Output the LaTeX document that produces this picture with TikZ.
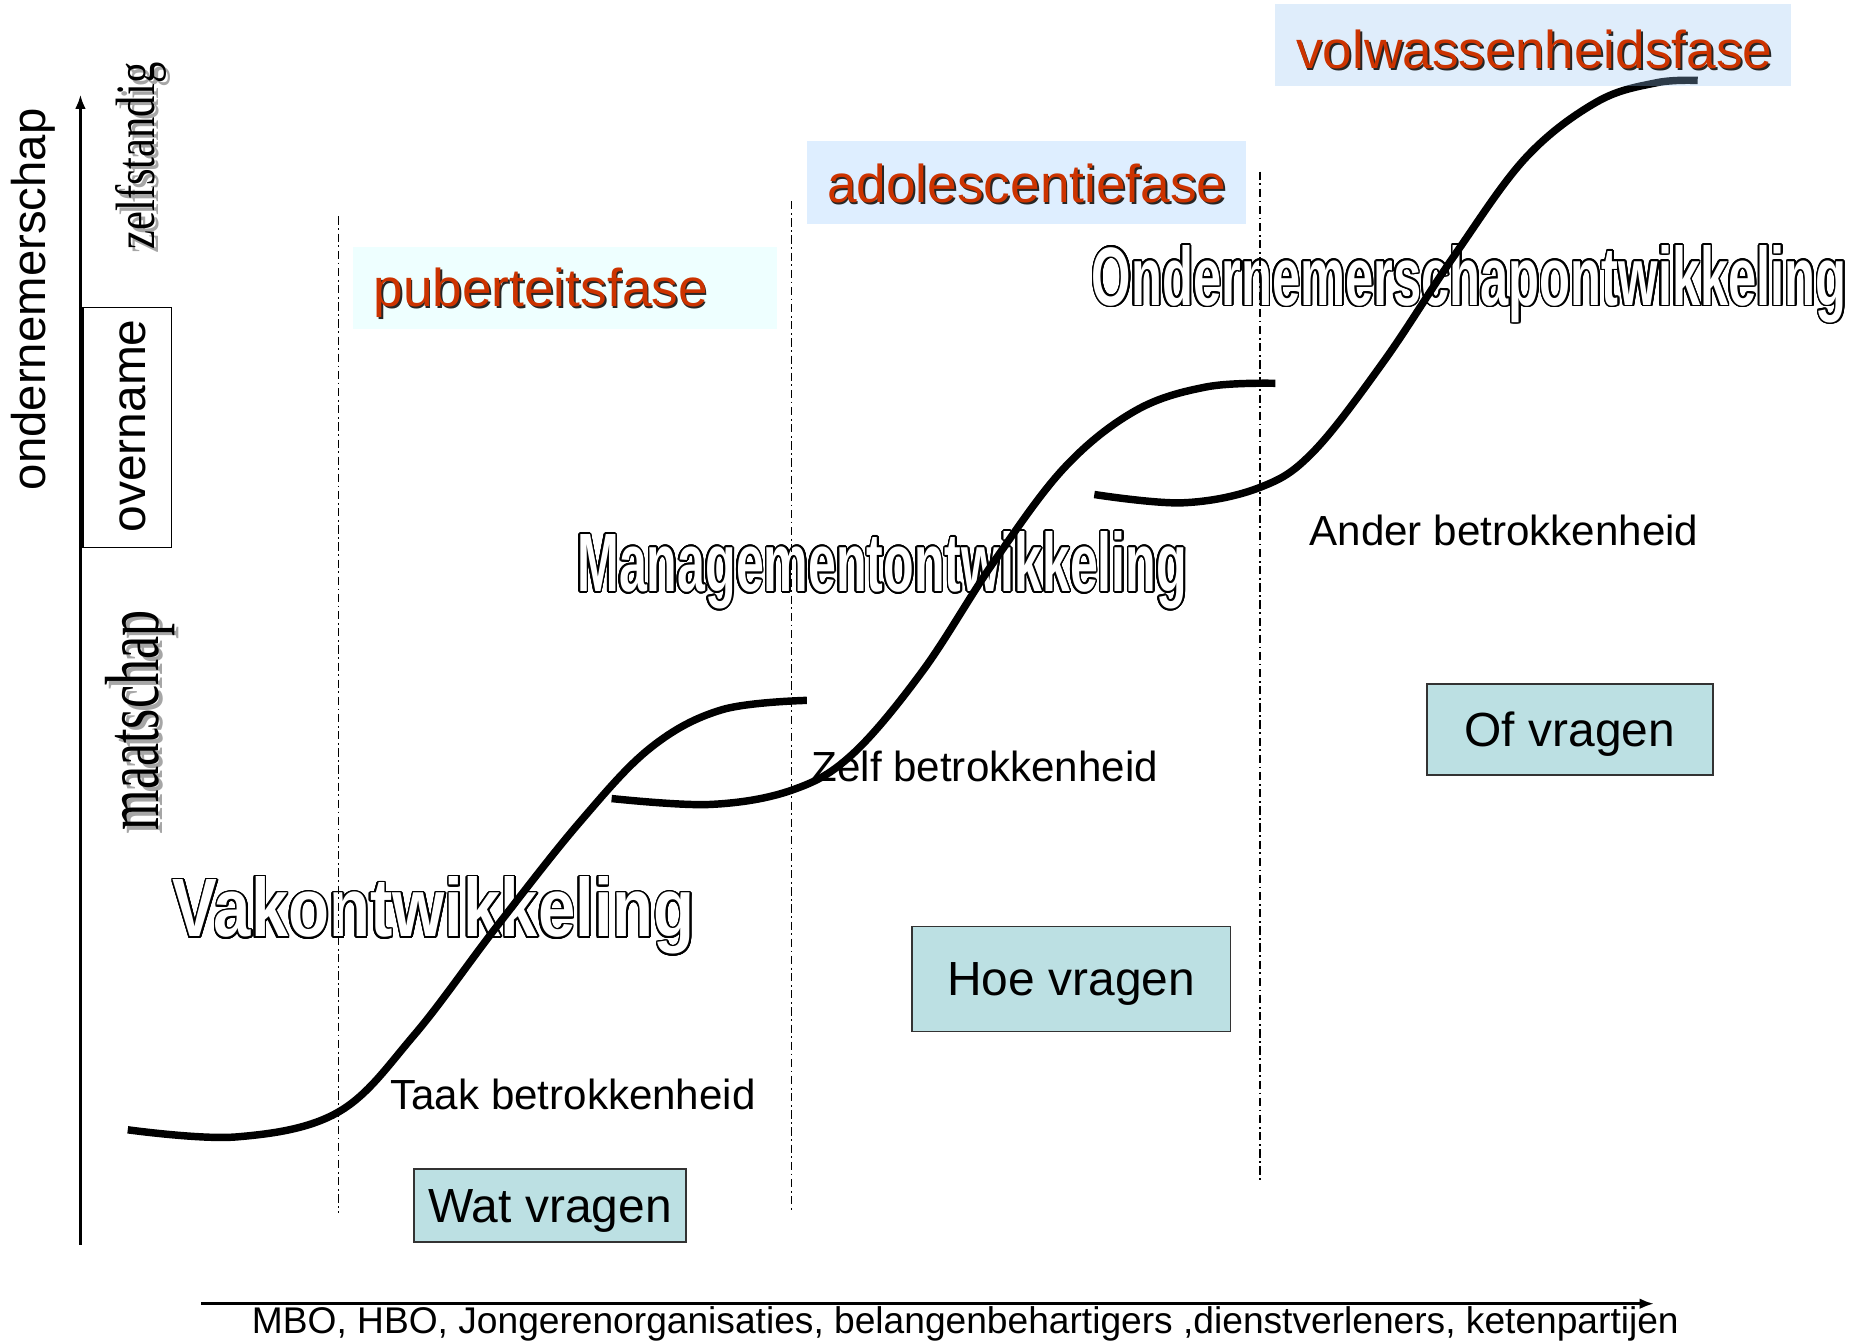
\documentclass[tikz,border=0pt]{standalone}
\usepackage{fontspec}
\setmainfont{Liberation Sans}
\newfontfamily\wafont{Liberation Serif}
\usepackage{graphicx}
\usepackage[copies]{contour}
\contourlength{1.4pt}
\contournumber{24}
\usetikzlibrary{arrows.meta}
\definecolor{fasered}{RGB}{204,51,0}
\definecolor{pubfill}{RGB}{238,255,255}
\definecolor{adofill}{RGB}{222,238,255}
\definecolor{volfill}{RGB}{150,197,242}
\definecolor{vraagfill}{RGB}{188,224,227}
\newcommand\olword[2]{{\fontsize{70}{70}\bfseries\addfontfeatures{FakeStretch=#1}\color{white}\contour{black}{#2}}}
\tikzset{
  every node/.style={inner sep=0pt, outer sep=0pt},
  curve/.style={line width=6.3pt, black},
  axisline/.style={line width=2.2pt, -{Latex[length=12pt,width=9pt]}},
  divider/.style={line width=1.1pt, dash pattern=on 7pt off 3pt on 1.5pt off 3pt},
  vraagbox/.style={draw=black!80, line width=1.3pt, fill=vraagfill, text depth=0pt, font=\fontsize{40.5}{45}\selectfont},
  fasetext/.style={anchor=base, text=fasered, font=\fontsize{45}{50}\selectfont},
  faseshadow/.style={anchor=base, text=black!85, font=\fontsize{45}{50}\selectfont},
  betrok/.style={anchor=base west, font=\fontsize{35.6}{40}\selectfont},
}
\begin{document}
\begin{tikzpicture}[x=1pt,y=-1pt]
\useasboundingbox (0,0) rectangle (1568,1134);

% phase boxes (solid)
\node[fill=pubfill, minimum width=359pt, minimum height=69pt] (pubbox) at (477.5,243.5) {};
\node[fill=adofill, minimum width=371pt, minimum height=70pt] (adobox) at (867.5,154) {};

% outlined development labels
\node[anchor=base west] (vak) at (146,792) {\olword{0.81}{Vakontwikkeling}};
\node[anchor=base west] (man) at (488,500) {\olword{0.605}{Managementontwikkeling}};
\node[anchor=base west] (ond) at (923,258) {\olword{0.612}{Ondernemerschapontwikkeling}};

% dash-dot dividers
\coordinate (d1t) at (286,183); \coordinate (d1b) at (286,1025);
\coordinate (d2t) at (669,170); \coordinate (d2b) at (669,1025);
\coordinate (d3t) at (1065,145); \coordinate (d3b) at (1065,1000);
\draw[divider] (d1t) -- (d1b);
\draw[divider] (d2t) -- (d2b);
\draw[divider] (d3t) -- (d3b);

% growth curves
\draw[curve] plot[smooth, tension=0.6] coordinates {(108,955) (200,961) (286,940) (350,875) (420,783) (490,695) (550,632) (610,600) (682,592)};
\draw[curve] plot[smooth, tension=0.6] coordinates {(517,675) (600,680) (669,668) (720,638) (780,567) (840,475) (900,395) (960,347) (1020,327) (1078,324)};
\draw[curve] plot[smooth, tension=0.6] coordinates {(925,418) (1000,425) (1065,412) (1110,382) (1170,305) (1230,215) (1290,133) (1350,86) (1400,70) (1435,68)};

% translucent phase box over the curve end
\node[fill=volfill, fill opacity=0.3, minimum width=436pt, minimum height=70pt] (volbox) at (1296,38) {};

% phase names with shadow
\node[faseshadow] (pubsh) at (458.5,260.5) {puberteitsfase};
\node[fasetext] (pub) at (457,259) {puberteitsfase};
\node[faseshadow] (adosh) at (869.5,172.5) {adolescentiefase};
\node[fasetext] (ado) at (868,171) {adolescentiefase};
\node[faseshadow] (volsh) at (1298.5,59.5) {volwassenheidsfase};
\node[fasetext] (vol) at (1297,58) {volwassenheidsfase};

% involvement labels
\node[betrok] (taak) at (330,938) {Taak betrokkenheid};
\node[betrok] (zelfb) at (686,661) {Zelf betrokkenheid};
\node[betrok] (ander) at (1107,461) {Ander betrokkenheid};

% question boxes
\node[vraagbox, minimum width=230pt, minimum height=62pt] (wat) at (465,1019) {Wat vragen};
\node[vraagbox, minimum width=269pt, minimum height=89pt] (hoe) at (905.5,827.5) {Hoe vragen};
\node[vraagbox, minimum width=242pt, minimum height=77pt] (of) at (1327,616.5) {Of vragen};

% axes
\coordinate (yb) at (68,1052); \coordinate (yt) at (68,80);
\draw[axisline] (yb) -- (yt);
\coordinate (xl) at (170,1102); \coordinate (xr) at (1398,1102);
\draw[axisline] (xl) -- (xr);
\node[anchor=base west, font=\fontsize{31.4}{35}\selectfont] (xlabel) at (213,1127) {MBO, HBO, Jongerenorganisaties, belangenbehartigers ,dienstverleners, ketenpartijen};

% y-axis labels
\node[rotate=90, font=\fontsize{40}{45}\selectfont] (ondlabel) at (28,253) {ondernemerschap};
\node[draw, line width=1.2pt, minimum width=75pt, minimum height=203pt] (ovbox) at (107.5,361.5) {};
\node[rotate=90, font=\fontsize{40.5}{45}\selectfont] (overname) at (112,360) {overname};
\node[rotate=90, anchor=base west, text=black!35] (zelfsh) at (134,214) {\resizebox{158pt}{33pt}{\wafont zelfstandig}};
\node[rotate=90, anchor=base west] (zelfst) at (131,211) {\resizebox{158pt}{33pt}{\wafont zelfstandig}};
\node[rotate=90, anchor=base west, text=black!35] (maatsh) at (137,705) {\resizebox{186pt}{45pt}{\wafont maatschap}};
\node[rotate=90, anchor=base west] (maat) at (134,702) {\resizebox{186pt}{45pt}{\wafont maatschap}};
\end{tikzpicture}
\end{document}
